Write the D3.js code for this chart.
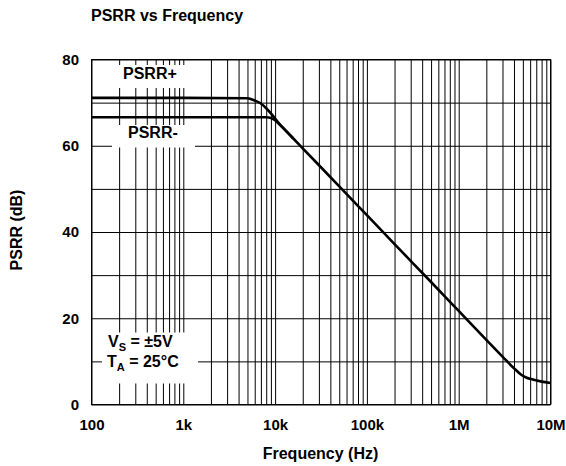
<!DOCTYPE html>
<html lang="en">
<head>
    <meta charset="UTF-8">
    <title>PSRR vs Frequency</title>
    <script src="https://cdnjs.cloudflare.com/ajax/libs/d3/7.8.5/d3.min.js"></script>
    <style>
        body{margin:0; background:#fff;}
        svg{display:block;}
        text{font-family: Arial, "Liberation Sans", Helvetica, sans-serif; font-weight:bold; fill:#000;}
    </style>
</head>
<body>
    <svg id="chart" width="566" height="466"></svg>
    <script>
        // values
        var freqPlus  = [100, 1000, 5000, 5500, 6000, 7000, 8000, 9000, 10000, 11000, 12000, 15600, 20000, 50000, 100000, 200000, 500000, 1000000, 2000000, 3000000, 4000000, 4800000, 5500000, 6400000, 8000000, 10000000];
        var psrrPlus  = [71.1, 71.1, 71.0, 70.8, 70.5, 69.8, 68.7, 67.5, 66.3, 65.2, 64.3, 61.8, 59.4, 50.6, 43.9, 37.2, 28.4, 21.7, 15.0, 11.1, 8.4, 6.9, 6.2, 5.8, 5.3, 5.0];
        var freqMinus = [100, 1000, 5000, 8000, 9000, 10000, 11000, 12000, 15600];
        var psrrMinus = [66.6, 66.6, 66.6, 66.6, 66.45, 65.9, 65.1, 64.3, 61.8];

        var xTickValues = [100, 1000, 10000, 100000, 1000000, 10000000];
        var xTickLabels = ["100", "1k", "10k", "100k", "1M", "10M"];
        var yTickValues = [0, 20, 40, 60, 80];

        var marginLeft = 91.5, marginTop = 59.5;
        var width = 459, height = 345;

        var svg = d3.select("#chart");
        var g = svg.append("g").attr("transform", "translate(" + marginLeft + "," + marginTop + ")");

        var x = d3.scaleLog().domain([100, 10000000]).range([0, width]);
        var y = d3.scaleLinear().domain([0, 80]).range([height, 0]);

        // grid
        var vGrid = g.append("g")
            .attr("transform", "translate(0," + height + ")")
            .call(d3.axisBottom(x).tickValues(x.ticks()).tickSize(-height).tickFormat(""));
        vGrid.select(".domain").remove();
        vGrid.selectAll("line").attr("stroke", "#000").attr("stroke-width", 1);

        var hGrid = g.append("g")
            .call(d3.axisLeft(y).ticks(8).tickSize(-width).tickFormat(""));
        hGrid.select(".domain").remove();
        hGrid.selectAll("line").attr("stroke", "#000").attr("stroke-width", 1);

        g.append("rect")
            .attr("width", width).attr("height", height)
            .attr("fill", "none").attr("stroke", "#000").attr("stroke-width", 1);

        // label boxes (blank out grid behind text)
        function box(x0, y0, x1, y1){
            svg.append("rect")
               .attr("x", x0).attr("y", y0)
               .attr("width", x1 - x0).attr("height", y1 - y0)
               .attr("fill", "#fff");
        }
        box(100, 65, 196, 88);
        box(112, 125, 195, 147.5);
        box(102, 332.5, 198, 383.5);

        // curves
        var line = d3.line()
            .x(function(d){ return x(d[0]); })
            .y(function(d){ return y(d[1]); })
            .curve(d3.curveMonotoneX);

        g.append("path")
         .datum(d3.zip(freqMinus, psrrMinus))
         .attr("d", line)
         .attr("fill", "none").attr("stroke", "#000").attr("stroke-width", 2.6);
        g.append("path")
         .datum(d3.zip(freqPlus, psrrPlus))
         .attr("d", line)
         .attr("fill", "none").attr("stroke", "#000").attr("stroke-width", 2.6);

        // axis labels
        var xAxis = g.append("g")
            .attr("transform", "translate(0," + height + ")")
            .call(d3.axisBottom(x).tickValues(xTickValues)
                  .tickFormat(function(d, i){ return xTickLabels[i]; })
                  .tickSize(0).tickPadding(15));
        xAxis.select(".domain").remove();
        xAxis.selectAll("text").style("font-size", "15px").style("font-family", null);

        var yAxis = g.append("g")
            .call(d3.axisLeft(y).tickValues(yTickValues).tickSize(0).tickPadding(12.5));
        yAxis.select(".domain").remove();
        yAxis.selectAll("text").style("font-size", "15px").style("font-family", null);

        // titles
        svg.append("text").attr("x", 91).attr("y", 21)
           .style("font-size", "16px").text("PSRR vs Frequency");
        svg.append("text").attr("x", 320.5).attr("y", 459)
           .attr("text-anchor", "middle").style("font-size", "16px").text("Frequency (Hz)");
        svg.append("text")
           .attr("transform", "translate(21.5,230) rotate(-90)")
           .attr("text-anchor", "middle").style("font-size", "16px").text("PSRR (dB)");

        // curve labels
        svg.append("text").attr("x", 123).attr("y", 79.3)
           .style("font-size", "16px").text("PSRR+");
        svg.append("text").attr("x", 128).attr("y", 138.3)
           .style("font-size", "16px").text("PSRR-");

        var cond = svg.append("text").style("font-size", "16px");
        var l1 = cond.append("tspan").attr("x", 108).attr("y", 346.7);
        l1.append("tspan").text("V");
        l1.append("tspan").attr("dy", 4).style("font-size", "11px").text("S");
        l1.append("tspan").attr("dy", -4).text(" = ±5V");
        var l2 = cond.append("tspan").attr("x", 107).attr("y", 366.7);
        l2.append("tspan").text("T");
        l2.append("tspan").attr("dy", 4).style("font-size", "11px").text("A");
        l2.append("tspan").attr("dy", -4).text(" = 25°C");
    </script>
</body>
</html>
